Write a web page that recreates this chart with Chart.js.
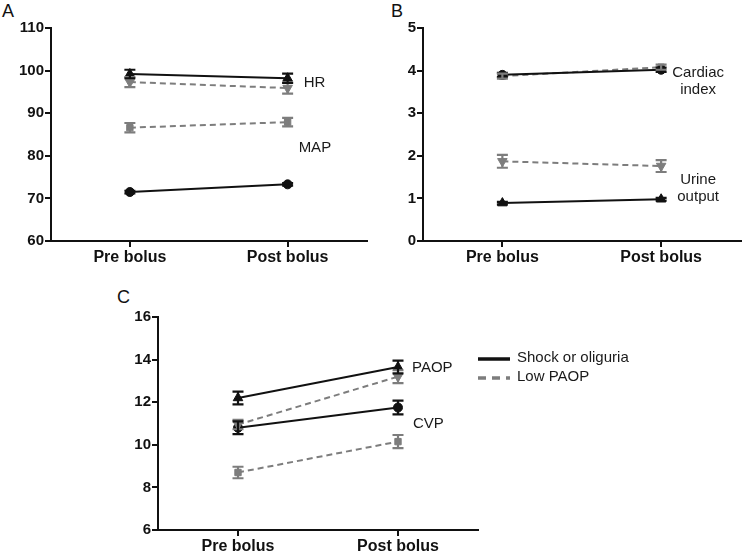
<!DOCTYPE html>
<html>
<head>
<meta charset="utf-8">
<script src="https://cdn.jsdelivr.net/npm/chart.js@4/dist/chart.umd.min.js"></script>
<style>
  html,body{margin:0;padding:0;background:#fff;}
  body{width:747px;height:553px;position:relative;overflow:hidden;font-family:"Liberation Sans",Arial,sans-serif;}
  canvas{position:absolute;}
  .lt{position:absolute;font-size:18px;color:#111;line-height:1;}
</style>
</head>
<body>
<div class="lt" style="left:2px;top:2px;">A</div>
<div class="lt" style="left:391px;top:2px;">B</div>
<div class="lt" style="left:117px;top:288px;">C</div>
<canvas id="cA" width="373" height="270" style="left:0;top:0;"></canvas>
<canvas id="cB" width="374" height="270" style="left:373px;top:0;"></canvas>
<canvas id="cC" width="647" height="273" style="left:100px;top:280px;"></canvas>
<script>
// ---- data ----
const categories = ["Pre bolus", "Post bolus"];

// Panel A
const hrShock = [99.2, 98.2];       const hrShockSem = [1.0, 1.1];
const hrLowPaop = [97.3, 95.9];     const hrLowPaopSem = [1.2, 1.3];
const mapLowPaop = [86.6, 87.9];    const mapLowPaopSem = [1.1, 1.0];
const mapShock = [71.5, 73.3];      const mapShockSem = [0.3, 0.3];
const ticksA = [60, 70, 80, 90, 100, 110];

// Panel B
const ciShock = [3.90, 4.02];       const ciShockSem = [0.05, 0.05];
const ciLowPaop = [3.87, 4.08];     const ciLowPaopSem = [0.06, 0.06];
const uoLowPaop = [1.87, 1.76];     const uoLowPaopSem = [0.15, 0.14];
const uoShock = [0.89, 0.98];       const uoShockSem = [0.03, 0.03];
const ticksB = [0, 1, 2, 3, 4, 5];

// Panel C
const paopShock = [12.2, 13.65];    const paopShockSem = [0.3, 0.3];
const paopLowPaop = [10.95, 13.2];  const paopLowPaopSem = [0.22, 0.3];
const cvpShock = [10.8, 11.75];     const cvpShockSem = [0.3, 0.32];
const cvpLowPaop = [8.7, 10.15];    const cvpLowPaopSem = [0.27, 0.31];
const ticksC = [6, 8, 10, 12, 14, 16];

const groupNames = ["Shock or oliguria", "Low PAOP"];

// ---- styling ----
Chart.defaults.font.family = '"Liberation Sans", Arial, sans-serif';
Chart.defaults.color = '#111';
const BLACK = '#111';
const GRAY = '#7d7d7d';

function ds(label, data, sem, group, style) {
  const black = group === 0;
  const col = black ? BLACK : GRAY;
  return {
    label: label, data: data, sem: sem, group: group,
    borderColor: col, backgroundColor: col,
    borderWidth: 2, borderDash: black ? [] : [6, 4],
    pointStyle: style.shape, pointRotation: style.rot || 0,
    pointRadius: style.r || 5, pointBorderWidth: 1,
    pointBorderColor: col, pointBackgroundColor: col,
    tension: 0, fill: false
  };
}

const errorBars = {
  id: 'errorBars',
  afterDatasetsDraw(chart) {
    const ctx = chart.ctx, y = chart.scales.y;
    chart.data.datasets.forEach((d, i) => {
      const meta = chart.getDatasetMeta(i);
      if (!d.sem) return;
      ctx.save();
      ctx.strokeStyle = d.borderColor;
      ctx.lineWidth = 2.2;
      meta.data.forEach((pt, j) => {
        const v = d.data[j], s = d.sem[j];
        const y1 = y.getPixelForValue(v + s), y2 = y.getPixelForValue(v - s);
        const x = pt.x;
        ctx.beginPath();
        ctx.moveTo(x, y1); ctx.lineTo(x, y2);
        ctx.moveTo(x - 5.5, y1); ctx.lineTo(x + 5.5, y1);
        ctx.moveTo(x - 5.5, y2); ctx.lineTo(x + 5.5, y2);
        ctx.stroke();
      });
      ctx.restore();
    });
  }
};

const annotations = {
  id: 'annotations',
  afterDraw(chart, args, opts) {
    const ctx = chart.ctx, xs = chart.scales.x, ys = chart.scales.y;
    ctx.save();
    ctx.font = '15px "Liberation Sans", Arial, sans-serif';
    ctx.fillStyle = '#1a1a1a';
    ctx.textBaseline = 'middle';
    (opts.items || []).forEach(it => {
      ctx.textAlign = it.align || 'left';
      ctx.fillText(it.text, xs.getPixelForValue(it.cat) + it.dx, ys.getPixelForValue(it.value));
    });
    if (opts.legend) {
      const x0 = chart.chartArea.right, y0 = opts.legend.top;
      groupNames.forEach((name, g) => {
        const yy = y0 + g * 19;
        ctx.beginPath();
        ctx.lineWidth = 3.5;
        ctx.strokeStyle = g === 0 ? BLACK : GRAY;
        ctx.setLineDash(g === 0 ? [] : [8, 6]);
        ctx.moveTo(x0, yy); ctx.lineTo(x0 + 32, yy);
        ctx.stroke();
        ctx.setLineDash([]);
        ctx.textAlign = 'left';
        ctx.fillText(name, x0 + 39, yy - 1);
      });
    }
    ctx.restore();
  }
};

function makePanel(id, datasets, yTicks, yWidth, xHeight, padding, items, legend) {
  const mn = yTicks[0], mx = yTicks[yTicks.length - 1];
  const step = yTicks[1] - yTicks[0];
  return new Chart(document.getElementById(id), {
    type: 'line',
    data: { labels: categories, datasets: datasets },
    options: {
      responsive: false, animation: false, devicePixelRatio: 1,
      layout: { padding: padding },
      plugins: { legend: { display: false }, tooltip: { enabled: false },
                 annotations: { items: items, legend: legend } },
      scales: {
        x: {
          type: 'category', offset: true,
          grid: { display: true, drawOnChartArea: false, drawTicks: true, tickLength: 6,
                  offset: false, color: BLACK, lineWidth: 2 },
          border: { display: true, color: BLACK, width: 2 },
          ticks: { font: { size: 16, weight: 'bold' }, color: '#111', padding: 1, maxRotation: 0 },
          afterFit: s => { s.height = xHeight; }
        },
        y: {
          min: mn, max: mx,
          afterBuildTicks: s => { s.ticks = yTicks.map(v => ({ value: v })); },
          grid: { display: true, drawOnChartArea: false, drawTicks: true, tickLength: 6,
                  color: BLACK, lineWidth: 2 },
          border: { display: true, color: BLACK, width: 2 },
          ticks: { font: { size: 15, weight: 'bold' }, color: '#111', padding: 1, stepSize: step },
          afterFit: s => { s.width = yWidth; }
        }
      }
    },
    plugins: [errorBars, annotations]
  });
}

const up = { shape: 'triangle', r: 5.5 };
const down = { shape: 'triangle', rot: 180, r: 5.5 };
const circ = { shape: 'circle', r: 4.5 };
const sq = { shape: 'rect', r: 4.5 };

makePanel('cA', [
  ds('MAP Low PAOP', mapLowPaop, mapLowPaopSem, 1, sq),
  ds('HR Low PAOP', hrLowPaop, hrLowPaopSem, 1, down),
  ds('HR Shock or oliguria', hrShock, hrShockSem, 0, up),
  ds('MAP Shock or oliguria', mapShock, mapShockSem, 0, circ)
], ticksA, 51, 29, { top: 28, right: 3, left: 0, bottom: 0 }, [
  { text: 'HR', cat: 1, dx: 16, value: 97.1 },
  { text: 'MAP', cat: 1, dx: 11, value: 81.75 }
]);

makePanel('cB', [
  ds('CI Shock or oliguria', ciShock, ciShockSem, 0, circ),
  ds('CI Low PAOP', ciLowPaop, ciLowPaopSem, 1, sq),
  ds('Urine Low PAOP', uoLowPaop, uoLowPaopSem, 1, down),
  ds('Urine Shock or oliguria', uoShock, uoShockSem, 0, up)
], ticksB, 50, 29, { top: 28, right: 4, left: 0, bottom: 0 }, [
  { text: 'Cardiac', cat: 1, dx: 37, value: 3.94, align: 'center' },
  { text: 'index', cat: 1, dx: 37, value: 3.55, align: 'center' },
  { text: 'Urine', cat: 1, dx: 37, value: 1.43, align: 'center' },
  { text: 'output', cat: 1, dx: 37, value: 1.03, align: 'center' }
]);

makePanel('cC', [
  ds('CVP Low PAOP', cvpLowPaop, cvpLowPaopSem, 1, sq),
  ds('PAOP Low PAOP', paopLowPaop, paopLowPaopSem, 1, down),
  ds('PAOP Shock or oliguria', paopShock, paopShockSem, 0, up),
  ds('CVP Shock or oliguria', cvpShock, cvpShockSem, 0, circ)
], ticksC, 58, 23, { top: 37, right: 269, left: 0, bottom: 0 }, [
  { text: 'PAOP', cat: 1, dx: 14, value: 13.62 },
  { text: 'CVP', cat: 1, dx: 15, value: 10.98 }
], { top: 79 });
</script>
</body>
</html>
